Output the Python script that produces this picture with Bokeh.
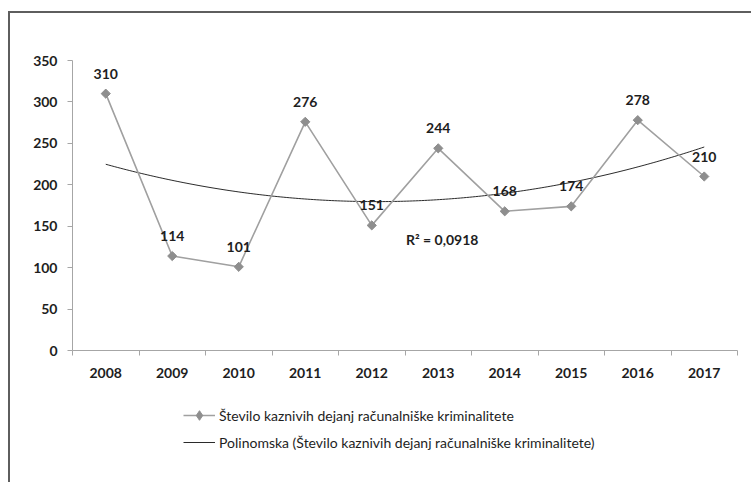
import numpy as np
from bokeh.plotting import figure
from bokeh.layouts import column
from bokeh.models import (ColumnDataSource, FixedTicker, Legend, LegendItem, Label)
from bokeh.core.properties import value
from bokeh.embed import file_html
from bokeh.resources import INLINE

years = [2008, 2009, 2010, 2011, 2012, 2013, 2014, 2015, 2016, 2017]
counts = [310, 114, 101, 276, 151, 244, 168, 174, 278, 210]
y_ticks = [0, 50, 100, 150, 200, 250, 300, 350]
series_label = "Število kaznivih dejanj računalniške kriminalitete"
trend_label = "Polinomska (Število kaznivih dejanj računalniške kriminalitete)"
r2_text = "R² = 0,0918"

FONT = "Lato"
SERIES_COLOR = "#a0a0a0"
MARK_COLOR = "#8e8e8e"
TREND_COLOR = "#2b2b2b"
TEXT_COLOR = "#1e1e1e"

# quadratic trend derived from the data
coef = np.polyfit(np.array(years, dtype=float), np.array(counts, dtype=float), 2)
tx = np.linspace(years[0], years[-1], 200)
ty = np.polyval(coef, tx)

src = ColumnDataSource(dict(x=years, y=counts, lbl=[str(c) for c in counts]))
trend_src = ColumnDataSource(dict(x=tx, y=ty))

W = 741
H1, H2 = 390, 79
p = figure(width=W, height=H1, output_backend="svg", toolbar_location=None,
           x_range=(years[0] - 0.5, years[-1] + 0.5), y_range=(y_ticks[0], y_ticks[-1]),
           min_border_left=62, min_border_right=14, min_border_top=47, min_border_bottom=53)
p.outline_line_color = None
p.xgrid.grid_line_color = None
p.ygrid.grid_line_color = None
p.background_fill_color = "white"
p.border_fill_color = "white"

trend_r = p.line("x", "y", source=trend_src, line_color=TREND_COLOR, line_width=1)
line_r = p.line("x", "y", source=src, line_color=SERIES_COLOR, line_width=1.6)
mark_r = p.scatter("x", "y", source=src, marker="square", size=6.5, angle=np.pi / 4,
                   fill_color=MARK_COLOR, line_color=MARK_COLOR)

p.text("x", "y", text="lbl", source=src, y_offset=-20, text_align="center",
       text_baseline="middle", text_font=value(FONT), text_font_style="bold",
       text_font_size="14px", text_color=TEXT_COLOR)

p.add_layout(Label(x=2013.06, y=134, text=r2_text, text_align="center",
                   text_baseline="middle", text_font=FONT, text_font_style="bold",
                   text_font_size="14px", text_color=TEXT_COLOR))

# axes
xa = p.xaxis[0]
xa.ticker = FixedTicker(ticks=years, minor_ticks=[y - 0.5 for y in years] + [years[-1] + 0.5])
xa.major_label_overrides = {y: str(y) for y in years}
xa.major_tick_out = 0
xa.major_tick_in = 0
xa.minor_tick_out = 5
xa.minor_tick_in = 0
xa.minor_tick_line_color = "#a6a6a6"
xa.axis_line_color = "#a6a6a6"
xa.major_label_standoff = 12
xa.major_label_text_font = FONT
xa.major_label_text_font_style = "bold"
xa.major_label_text_font_size = "14px"
xa.major_label_text_color = TEXT_COLOR

ya = p.yaxis[0]
ya.ticker = FixedTicker(ticks=y_ticks)
ya.major_tick_out = 5
ya.major_tick_in = 0
ya.minor_tick_out = 0
ya.minor_tick_in = 0
ya.major_tick_line_color = "#a6a6a6"
ya.axis_line_color = "#a6a6a6"
ya.major_label_standoff = 10
ya.major_label_text_font = FONT
ya.major_label_text_font_style = "bold"
ya.major_label_text_font_size = "14px"
ya.major_label_text_color = TEXT_COLOR

# legend strip below the chart (same data, kept outside this strip's visible range)
p2 = figure(width=W, height=H2, output_backend="svg", toolbar_location=None,
            x_range=(0, 1), y_range=(0, 1), min_border=0, x_axis_type=None, y_axis_type=None)
p2.outline_line_color = None
p2.xgrid.grid_line_color = None
p2.ygrid.grid_line_color = None
lg_line = p2.line("x", "y", source=src, line_color=SERIES_COLOR, line_width=1.6)
lg_mark = p2.scatter("x", "y", source=src, marker="diamond", size=10,
                     fill_color=MARK_COLOR, line_color=MARK_COLOR)
lg_trend = p2.line("x", "y", source=trend_src, line_color=TREND_COLOR, line_width=1)

legend = Legend(items=[LegendItem(label=series_label, renderers=[lg_line, lg_mark]),
                       LegendItem(label=trend_label, renderers=[lg_trend])],
                location=(111, 28), orientation="vertical",
                border_line_color=None, background_fill_alpha=0,
                padding=0, margin=0, spacing=3, glyph_height=24, glyph_width=32,
                label_height=24, label_standoff=4,
                label_text_font=FONT, label_text_font_size="14px",
                label_text_color=TEXT_COLOR)
p2.add_layout(legend, "center")

layout = column(p, p2, spacing=0,
                styles={"border-left": "2px solid #5e5e5e", "border-top": "2px solid #5e5e5e",
                        "margin-top": "11px", "margin-left": "8px", "background": "white"})

open("out.html", "w").write(file_html(layout, INLINE))
